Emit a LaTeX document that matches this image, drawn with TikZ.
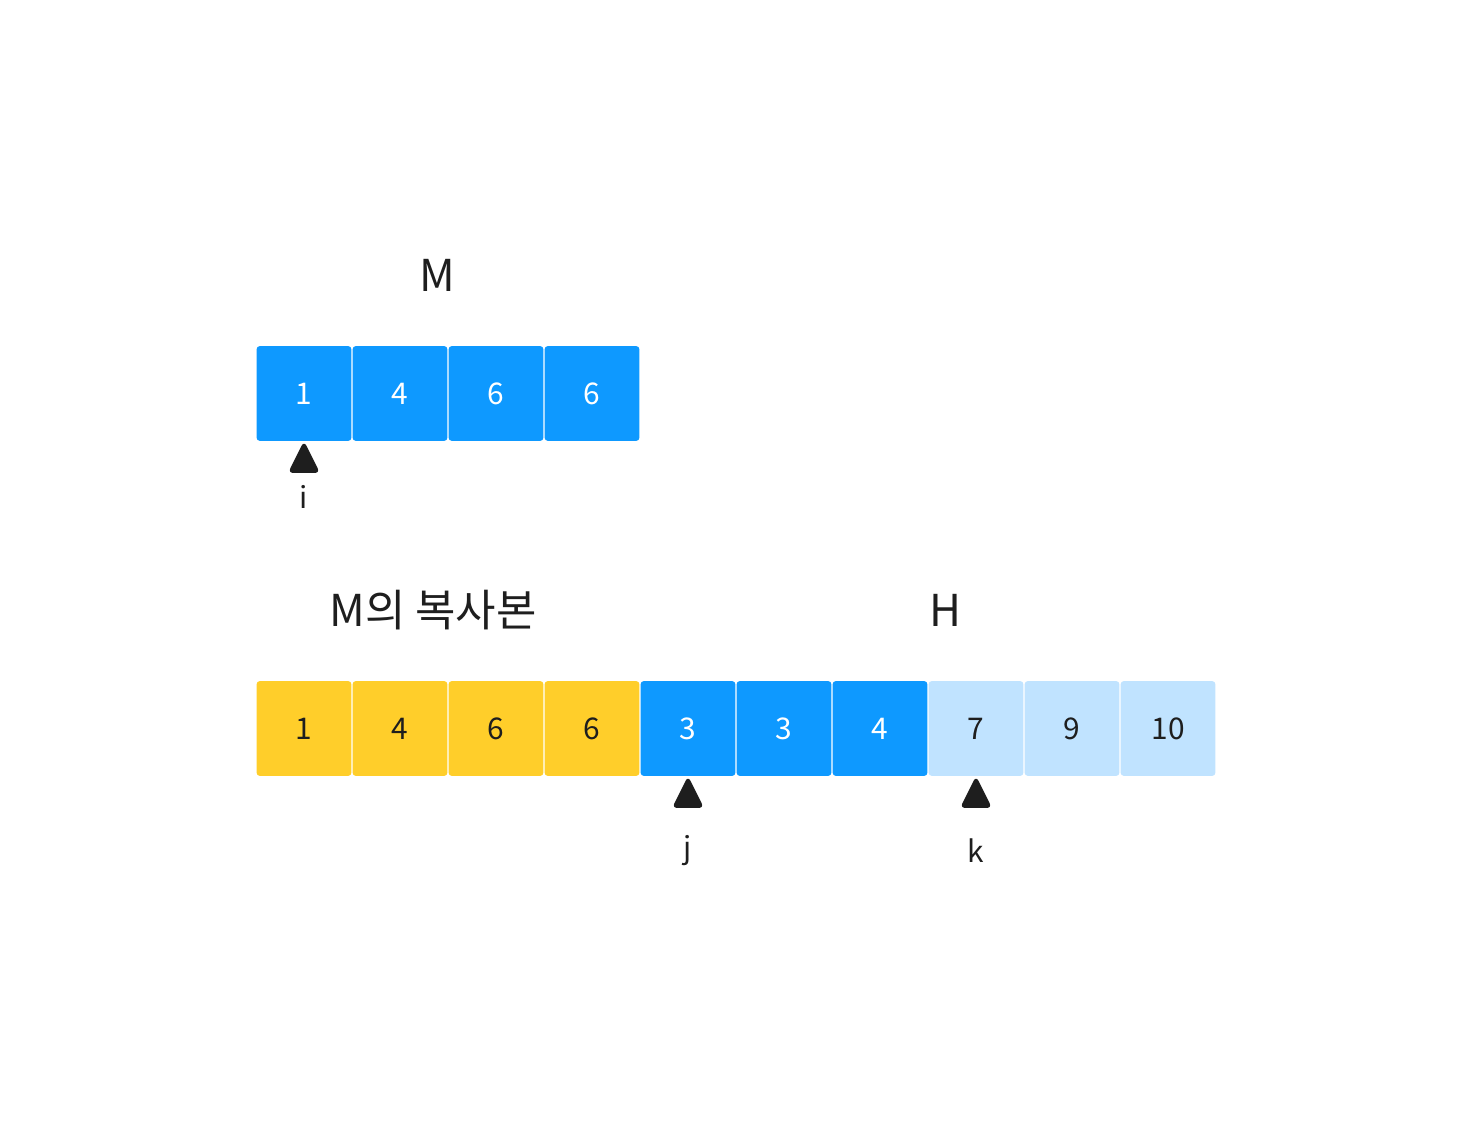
\documentclass[tikz,border=0pt]{standalone}
\usepackage{fontspec}
\setmainfont{Noto Sans CJK KR}
\definecolor{cblue}{HTML}{0E99FF}
\definecolor{cyel}{HTML}{FFCE2A}
\definecolor{clight}{HTML}{C0E3FF}
\definecolor{ink}{HTML}{1E1E1E}
\tikzset{
 cell/.style={minimum width=1.9cm,minimum height=1.9cm,rounded corners=2pt,inner sep=0pt,font=\fontsize{17}{17}\selectfont},
 bluecell/.style={cell,fill=cblue,text=white},
 yelcell/.style={cell,fill=cyel,text=ink},
 lightcell/.style={cell,fill=clight,text=ink},
 title/.style={font=\fontsize{25}{25}\selectfont,text=ink},
 ptr/.style={font=\fontsize{17}{17}\selectfont,text=ink},
 tri/.style={fill=ink,rounded corners=3pt}
}
\begin{document}
\begin{tikzpicture}[x=0.02cm,y=-0.02cm]
\useasboundingbox (0,0) rectangle (1472,1124);
\node[title] (tM) at (437,275) {M};
\foreach \v [count=\n] in {1,4,6,6} \node[bluecell] (m\n) at (304+96*\n-96,393.5) {\v};
\fill[tri] (288,473) -- (304,441) -- (320,473) -- cycle;
\node[ptr] (li) at (304,497) {i};
\node[title] (tC) at (433,610) {M의 복사본};
\node[title] (tH) at (945,610) {H};
\foreach \v [count=\n] in {1,4,6,6} \node[yelcell] (c\n) at (304+96*\n-96,728.5) {\v};
\foreach \v [count=\n] in {3,3,4} \node[bluecell] (h\n) at (688+96*\n-96,728.5) {\v};
\foreach \v [count=\n] in {7,9,10} \node[lightcell] (g\n) at (976+96*\n-96,728.5) {\v};
\fill[tri] (672,808) -- (688,776) -- (704,808) -- cycle;
\fill[tri] (960,808) -- (976,776) -- (992,808) -- cycle;
\node[ptr] (lj) at (688,851) {j};
\node[ptr] (lk) at (976,851) {k};
\end{tikzpicture}
\end{document}
